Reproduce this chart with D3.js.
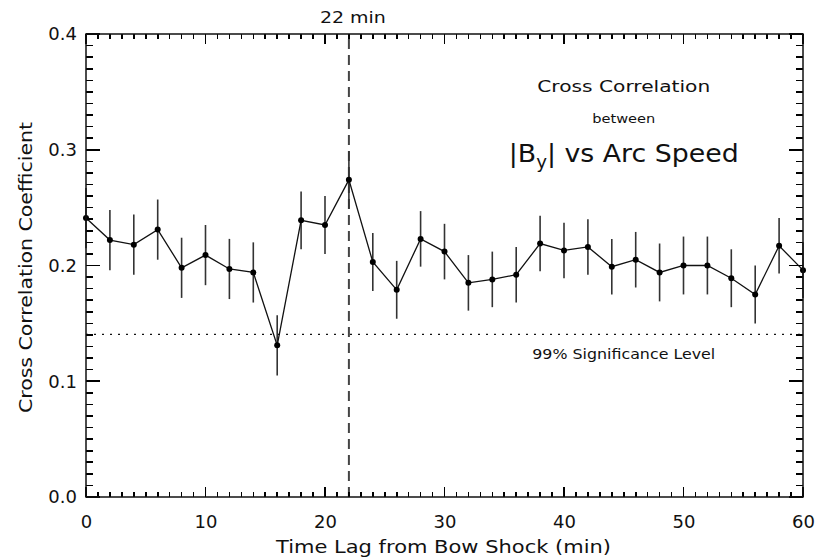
<!DOCTYPE html>
<html>
<head>
<meta charset="utf-8">
<script src="https://cdn.jsdelivr.net/npm/d3@7"></script>
<style>
  html, body { margin: 0; padding: 0; background: #fff; }
  svg { display: block; font-family: "DejaVu Sans", sans-serif; }
</style>
</head>
<body>
<svg id="chart" width="815" height="559"></svg>
<script>
// time lag (min) and cross correlation
const lags = [0, 2, 4, 6, 8, 10, 12, 14, 16, 18, 20, 22, 24, 26, 28, 30,
  32, 34, 36, 38, 40, 42, 44, 46, 48, 50, 52, 54, 56, 58, 60];
const coef = [0.241, 0.222, 0.218, 0.231, 0.198, 0.209, 0.197, 0.194, 0.131, 0.239,
  0.235, 0.274, 0.203, 0.179, 0.223, 0.212, 0.185, 0.188, 0.192, 0.219, 0.213,
  0.216, 0.199, 0.205, 0.194, 0.200, 0.200, 0.189, 0.175, 0.217, 0.196];
const errs = [0.026, 0.026, 0.026, 0.026, 0.026, 0.026, 0.026, 0.026, 0.026, 0.025,
  0.025, 0.025, 0.025, 0.025, 0.024, 0.024, 0.024, 0.024, 0.024, 0.024, 0.024,
  0.024, 0.024, 0.024, 0.025, 0.025, 0.025, 0.025, 0.025, 0.024, 0.024];
const xTicks = [0, 10, 20, 30, 40, 50, 60];
const yTicks = [0.0, 0.1, 0.2, 0.3, 0.4];
const sigLevel = 0.1405;
const peakLag = 22;
const textX = 45; // annotation block centre, in minutes

const W = 815, H = 559;
const m = { top: 34, right: 12, bottom: 62, left: 86 };
const svg = d3.select("#chart");

const x = d3.scaleLinear().domain([0, 60]).range([m.left, W - m.right]);
const y = d3.scaleLinear().domain([0, 0.4]).range([H - m.bottom, m.top]);

const ink = "#111";
const font = "DejaVu Sans";

// --- reference lines ---
svg.append("line")
  .attr("x1", x(0)).attr("x2", x(60)).attr("y1", y(sigLevel)).attr("y2", y(sigLevel))
  .attr("stroke", ink).attr("stroke-width", 1.3).attr("stroke-dasharray", "2,6");

svg.append("line")
  .attr("x1", x(peakLag)).attr("x2", x(peakLag)).attr("y1", y(0)).attr("y2", y(0.4))
  .attr("stroke", "#444").attr("stroke-width", 2).attr("stroke-dasharray", "10,6");

// --- data: error bars, line, dots ---
const pts = lags.map((l, i) => ({ l, v: coef[i], e: errs[i] }));

svg.append("g").selectAll("line").data(pts).join("line")
  .attr("x1", (d) => x(d.l)).attr("x2", (d) => x(d.l))
  .attr("y1", (d) => y(d.v - d.e)).attr("y2", (d) => y(d.v + d.e))
  .attr("stroke", "#333").attr("stroke-width", 1.6);

svg.append("path").datum(pts)
  .attr("d", d3.line().x((d) => x(d.l)).y((d) => y(d.v)))
  .attr("fill", "none").attr("stroke", ink).attr("stroke-width", 1.3);

svg.append("g").selectAll("circle").data(pts).join("circle")
  .attr("cx", (d) => x(d.l)).attr("cy", (d) => y(d.v)).attr("r", 3)
  .attr("fill", "#000");

// --- texts ---
function label(tx, ty, str, size, len) {
  const t = svg.append("text").attr("x", tx).attr("y", ty)
    .attr("text-anchor", "middle").attr("font-size", size).attr("fill", ink).text(str);
  if (len) t.attr("textLength", len).attr("lengthAdjust", "spacingAndGlyphs");
  return t;
}

label(x(peakLag) + 4, 23, "22 min", 15, 66);
label(x(textX), 92, "Cross Correlation", 16, 173);
label(x(textX), 123, "between", 12, 63);
label(x(textX), 359, "99% Significance Level", 14, 183);
label((276 + 611) / 2, 553, "Time Lag from Bow Shock (min)", 18, 335);

// |B_y| vs Arc Speed with subscript
const big = svg.append("text").attr("x", x(textX)).attr("y", 162)
  .attr("text-anchor", "middle").attr("font-size", 25).attr("fill", ink)
  .attr("textLength", 230).attr("lengthAdjust", "spacingAndGlyphs");
big.append("tspan").text("|B");
big.append("tspan").attr("font-size", 17).attr("dy", 6).text("y");
big.append("tspan").attr("dy", -6).text("| vs Arc Speed");

// y axis title
svg.append("text")
  .attr("transform", `translate(32,${(122 + 413) / 2}) rotate(-90)`)
  .attr("text-anchor", "middle").attr("font-size", 18).attr("fill", ink)
  .attr("textLength", 291).attr("lengthAdjust", "spacingAndGlyphs")
  .text("Cross Correlation Coefficient");

// tick labels from d3 axes
const bottom = svg.append("g").attr("transform", `translate(0,${y(0)})`)
  .call(d3.axisBottom(x).tickValues(xTicks).tickSize(0).tickFormat(d3.format("d")));
bottom.select(".domain").remove();
bottom.selectAll("text").attr("y", 31).attr("dy", 0)
  .attr("font-size", 18).attr("fill", ink).attr("font-family", font);

const left = svg.append("g").attr("transform", `translate(${x(0)},0)`)
  .call(d3.axisLeft(y).tickValues(yTicks).tickSize(0).tickFormat(d3.format(".1f")));
left.select(".domain").remove();
left.selectAll("text").attr("x", -9)
  .attr("font-size", 18).attr("fill", ink).attr("font-family", font);

// --- frame + inward ticks on all four sides (IDL style), drawn last ---
const minorX = d3.range(0, 61, 1);
const minorY = d3.range(0, 41, 1).map((i) => i / 100);
const xt = minorX.map((v) => ({ v, len: v % 10 === 0 ? 10 : 5 }));
const yt = minorY.map((v, i) => ({ v, len: i % 10 === 0 ? 14 : 7 }));

const ticks = svg.append("g").attr("shape-rendering", "crispEdges");
function tickSet(cls, data, f) {
  ticks.selectAll("line." + cls).data(data).join("line").attr("class", cls)
    .attr("stroke", "#000").attr("stroke-width", 1.6)
    .each(function (d) {
      const [x1, y1, x2, y2] = f(d);
      d3.select(this).attr("x1", x1).attr("y1", y1).attr("x2", x2).attr("y2", y2);
    });
}
tickSet("xb", xt, (d) => [x(d.v), y(0), x(d.v), y(0) - d.len]);
tickSet("xt", xt, (d) => [x(d.v), y(0.4), x(d.v), y(0.4) + d.len]);
tickSet("yl", yt, (d) => [x(0), y(d.v), x(0) + d.len, y(d.v)]);
tickSet("yr", yt, (d) => [x(60), y(d.v), x(60) - d.len, y(d.v)]);

svg.append("rect")
  .attr("x", x(0)).attr("y", y(0.4))
  .attr("width", x(60) - x(0)).attr("height", y(0) - y(0.4))
  .attr("fill", "none").attr("stroke", ink).attr("stroke-width", 1.5);
</script>
</body>
</html>
